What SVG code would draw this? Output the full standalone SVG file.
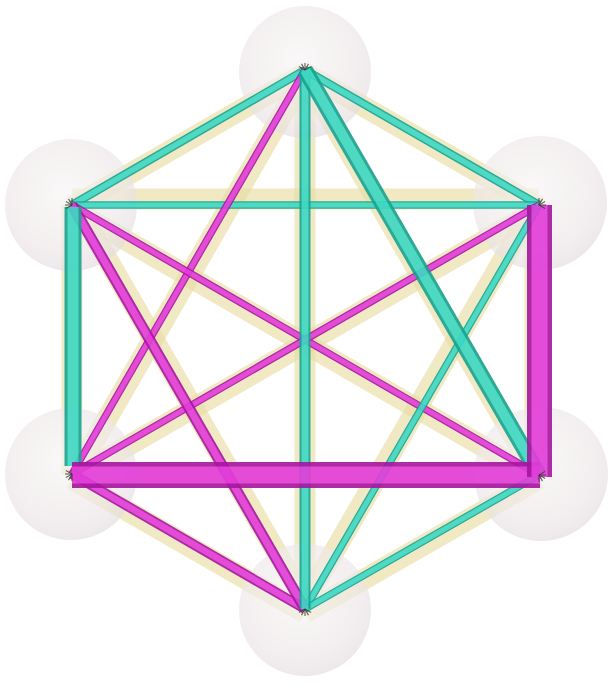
<svg xmlns="http://www.w3.org/2000/svg" width="616" height="689" viewBox="0 0 616 689">
<defs>
<radialGradient id="sph" cx="0.45" cy="0.4" r="0.6">
<stop offset="0" stop-color="#f7f4f4"/>
<stop offset="0.75" stop-color="#ede7e8"/>
<stop offset="1" stop-color="#e5dddf"/>
</radialGradient>
<style>
.halo{fill:none;stroke:#e6dca0;stroke-opacity:0.62;stroke-width:21;stroke-linecap:butt}
.sphere{fill:url(#sph);fill-opacity:0.68}
.edge{opacity:0.9}
.edge line{stroke-linecap:butt}
.t .o{stroke:#18a391}
.t .i{stroke:#3dd8c3}
.m .o{stroke:#a6169f}
.m .i{stroke:#e33cda}
.star line{stroke:#3a3a30;stroke-width:1.2;stroke-opacity:0.75}
</style>
</defs>
<rect width="616" height="689" fill="#ffffff"/>
<g id="connectors-halo">
<line class="halo" x1="305" y1="73" x2="72" y2="207"/>
<line class="halo" x1="305" y1="73" x2="539" y2="207"/>
<line class="halo" x1="305" y1="70" x2="305" y2="609"/>
<line class="halo" x1="303" y1="72" x2="537" y2="477"/>
<line class="halo" x1="307" y1="72" x2="74" y2="476"/>
<line class="halo" x1="72" y1="199" x2="539" y2="199"/>
<line class="halo" x1="72" y1="205" x2="72" y2="474"/>
<line class="halo" x1="72" y1="209" x2="539" y2="479"/>
<line class="halo" x1="75" y1="203" x2="308" y2="607"/>
<line class="halo" x1="535" y1="205" x2="535" y2="475"/>
<line class="halo" x1="539" y1="209" x2="72" y2="478"/>
<line class="halo" x1="536" y1="203" x2="302" y2="607"/>
<line class="halo" x1="72" y1="474" x2="539" y2="475"/>
<line class="halo" x1="72" y1="479" x2="305" y2="613"/>
<line class="halo" x1="539" y1="479" x2="305" y2="613"/>
</g>
<g id="nodes">
<g id="node-top"><circle class="sphere" cx="305" cy="72" r="66"/></g>
<g id="node-upper-left"><circle class="sphere" cx="71" cy="205" r="66"/></g>
<g id="node-upper-right"><circle class="sphere" cx="540" cy="203" r="67"/></g>
<g id="node-lower-left"><circle class="sphere" cx="71" cy="474" r="66"/></g>
<g id="node-lower-right"><circle class="sphere" cx="541" cy="474" r="67"/></g>
<g id="node-bottom"><circle class="sphere" cx="305" cy="610" r="66"/></g>
</g>
<g id="connectors">
<g class="edge t"><line class="o" x1="305" y1="70" x2="72" y2="205" stroke-width="8.5"/><line class="i" x1="305" y1="70" x2="72" y2="205" stroke-width="5.5"/></g>
<g class="edge t"><line class="o" x1="305" y1="70" x2="539" y2="205" stroke-width="8.5"/><line class="i" x1="305" y1="70" x2="539" y2="205" stroke-width="5.5"/></g>
<g class="edge t"><line class="o" x1="72" y1="205" x2="539" y2="205" stroke-width="7.5"/><line class="i" x1="72" y1="205" x2="539" y2="205" stroke-width="5"/></g>
<g class="edge m"><line class="o" x1="305" y1="70" x2="72" y2="474" stroke-width="7.5"/><line class="i" x1="305" y1="70" x2="72" y2="474" stroke-width="5"/></g>
<g class="edge m"><line class="o" x1="72" y1="205" x2="539" y2="475" stroke-width="7.5"/><line class="i" x1="72" y1="205" x2="539" y2="475" stroke-width="5"/></g>
<g class="edge m"><line class="o" x1="539" y1="205" x2="72" y2="474" stroke-width="7.5"/><line class="i" x1="539" y1="205" x2="72" y2="474" stroke-width="5"/></g>
<g class="edge t"><line class="o" x1="539" y1="205" x2="305" y2="609" stroke-width="7.5"/><line class="i" x1="539" y1="205" x2="305" y2="609" stroke-width="5"/></g>
<g class="edge t"><line class="o" x1="539" y1="475" x2="305" y2="609" stroke-width="7.5"/><line class="i" x1="539" y1="475" x2="305" y2="609" stroke-width="5"/></g>
<g class="edge m"><line class="o" x1="72" y1="474" x2="305" y2="609" stroke-width="10"/><line class="i" x1="72" y1="474" x2="305" y2="609" stroke-width="6.5"/></g>
<g class="edge m"><line class="o" x1="72" y1="205" x2="305" y2="609" stroke-width="11"/><line class="i" x1="72" y1="205" x2="305" y2="609" stroke-width="7"/></g>
<g class="edge t"><line class="o" x1="305" y1="70" x2="305" y2="609" stroke-width="11"/><line class="i" x1="305" y1="70" x2="305" y2="609" stroke-width="7"/></g>
<g class="edge t"><line class="o" x1="305" y1="70" x2="539" y2="475" stroke-width="16"/><line class="i" x1="305" y1="70" x2="539" y2="475" stroke-width="10"/></g>
<g class="edge t"><line class="o" x1="73" y1="207" x2="73" y2="466" stroke-width="17"/><line class="i" x1="73" y1="207" x2="73" y2="466" stroke-width="11"/></g>
<g class="edge m"><line class="o" x1="72" y1="475" x2="540" y2="475" stroke-width="26"/><line class="i" x1="72" y1="475" x2="540" y2="475" stroke-width="17"/></g>
<g class="edge m"><line class="o" x1="539.5" y1="205" x2="539.5" y2="477" stroke-width="25"/><line class="i" x1="539.5" y1="205" x2="539.5" y2="477" stroke-width="16"/></g>
</g>
<g id="markers">
<g class="star"><line x1="305" y1="70" x2="311.1" y2="66.5"/><line x1="305" y1="70" x2="298.9" y2="66.5"/><line x1="305" y1="70" x2="305" y2="63"/><line x1="305" y1="70" x2="301.5" y2="63.9"/><line x1="305" y1="70" x2="308.5" y2="63.9"/></g>
<g class="star"><line x1="72" y1="205" x2="65.9" y2="208.5"/><line x1="72" y1="205" x2="65" y2="205"/><line x1="72" y1="205" x2="72" y2="198"/><line x1="72" y1="205" x2="65.9" y2="201.5"/><line x1="72" y1="205" x2="68.5" y2="198.9"/></g>
<g class="star"><line x1="539" y1="205" x2="545.1" y2="208.5"/><line x1="539" y1="205" x2="546" y2="205"/><line x1="539" y1="205" x2="539" y2="198"/><line x1="539" y1="205" x2="545.1" y2="201.5"/><line x1="539" y1="205" x2="542.5" y2="198.9"/></g>
<g class="star"><line x1="72" y1="474" x2="72" y2="481"/><line x1="72" y1="474" x2="68.5" y2="480.1"/><line x1="72" y1="474" x2="65.9" y2="477.5"/><line x1="72" y1="474" x2="65" y2="474"/><line x1="72" y1="474" x2="65.9" y2="470.5"/></g>
<g class="star"><line x1="539" y1="475" x2="539" y2="482"/><line x1="539" y1="475" x2="542.5" y2="481.1"/><line x1="539" y1="475" x2="545.1" y2="478.5"/><line x1="539" y1="475" x2="546" y2="475"/><line x1="539" y1="475" x2="545.1" y2="471.5"/></g>
<g class="star"><line x1="305" y1="609" x2="311.1" y2="612.5"/><line x1="305" y1="609" x2="308.5" y2="615.1"/><line x1="305" y1="609" x2="305" y2="616"/><line x1="305" y1="609" x2="301.5" y2="615.1"/><line x1="305" y1="609" x2="298.9" y2="612.5"/></g>
</g>
</svg>
